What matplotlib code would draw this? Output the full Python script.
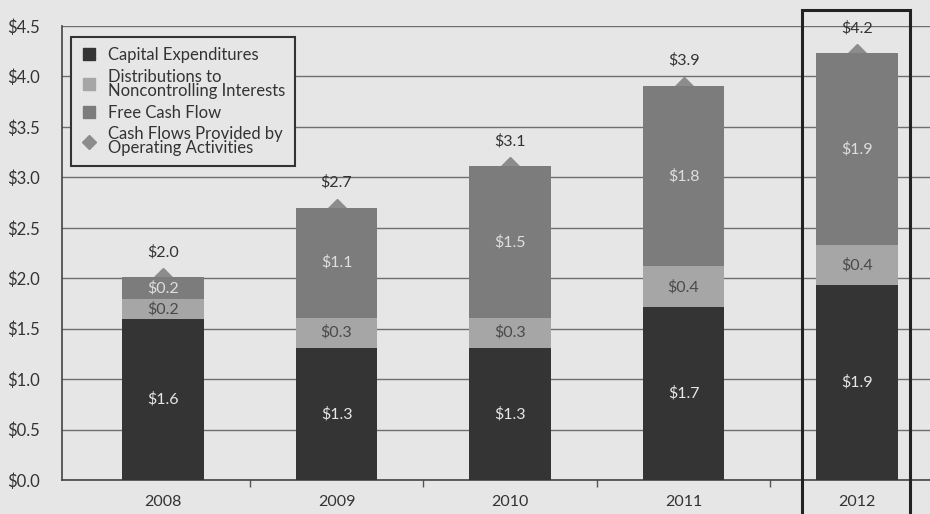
import matplotlib
matplotlib.use("Agg")
import matplotlib.pyplot as plt
from matplotlib.patches import Rectangle
from matplotlib.lines import Line2D
import numpy as np

plt.rcParams['font.family'] = ['Lato', 'DejaVu Sans']

years = ['2008', '2009', '2010', '2011', '2012']
capex = [1.6, 1.3, 1.3, 1.7, 1.9]
distributions = [0.2, 0.3, 0.3, 0.4, 0.4]
free_cash_flow = [0.2, 1.1, 1.5, 1.8, 1.9]
operating_cash = [2.0, 2.7, 3.1, 3.9, 4.2]

# bar heights as drawn (unrounded values behind the labels)
capex_h = [1.60, 1.31, 1.31, 1.71, 1.93]
dist_h = [0.19, 0.30, 0.30, 0.41, 0.40]
fcf_h = [0.22, 1.09, 1.50, 1.79, 1.90]

bg = '#e6e6e6'
c_capex = '#343434'
c_dist = '#a6a6a6'
c_fcf = '#7c7c7c'
c_diam = '#8c8c8c'

fig = plt.figure(figsize=(9.3, 5.14), dpi=100, facecolor=bg)
ax = fig.add_axes([62 / 930, 34 / 514, 868 / 930, 454 / 514], facecolor=bg)

x = np.arange(len(years))
w = 0.47
ax.bar(x, capex_h, w, color=c_capex, zorder=3)
ax.bar(x, dist_h, w, bottom=capex_h, color=c_dist, zorder=3)
bot3 = np.array(capex_h) + np.array(dist_h)
ax.bar(x, fcf_h, w, bottom=bot3, color=c_fcf, zorder=3)
tops = bot3 + np.array(fcf_h)
ax.plot(x, tops, linestyle='none', marker='D', markersize=9, color=c_diam, zorder=2)

fs = 11.5
for i in range(len(years)):
    ax.text(x[i], capex_h[i] / 2, '$%.1f' % capex[i], ha='center', va='center',
            color='#e6e6e6', fontsize=fs, zorder=4)
    ax.text(x[i], capex_h[i] + dist_h[i] / 2, '$%.1f' % distributions[i], ha='center',
            va='center', color='#4a4a4a', fontsize=fs, zorder=4)
    ax.text(x[i], bot3[i] + fcf_h[i] / 2, '$%.1f' % free_cash_flow[i], ha='center',
            va='center', color='#dedede', fontsize=fs, zorder=4)
    ax.annotate('$%.1f' % operating_cash[i], (x[i], tops[i]), xytext=(0, 18),
                textcoords='offset points', ha='center', va='center',
                color='#333333', fontsize=fs, zorder=4)

ax.set_xlim(-0.582, 4.42)
ax.set_ylim(0, 4.5)
ax.set_yticks(np.arange(0, 4.51, 0.5))
ax.set_yticklabels(['$%.1f' % v for v in np.arange(0, 4.51, 0.5)])
ax.set_xticks(x)
ax.set_xticklabels(years)
ax.set_xticks(x[:-1] + 0.5, minor=True)
ax.tick_params(axis='x', which='major', length=0, pad=11, labelsize=fs, labelcolor='#333333')
ax.tick_params(axis='x', which='minor', length=5, width=1, color='#555555')
ax.tick_params(axis='y', length=0, pad=16, labelsize=12, labelcolor='#333333')
ax.yaxis.grid(True, color='#6e6e6e', linewidth=1.0, zorder=1)
ax.set_axisbelow(True)
for s in ['top', 'right']:
    ax.spines[s].set_visible(False)
ax.spines['left'].set_color('#444444')
ax.spines['bottom'].set_color('#444444')
ax.spines['left'].set_linewidth(1.2)
ax.spines['bottom'].set_linewidth(1.2)

handles = [
    Line2D([], [], linestyle='none', marker='s', markersize=8, color=c_capex),
    Line2D([], [], linestyle='none', marker='s', markersize=8, color=c_dist),
    Line2D([], [], linestyle='none', marker='s', markersize=8, color=c_fcf),
    Line2D([], [], linestyle='none', marker='D', markersize=7, color=c_diam),
]
labels = ['Capital Expenditures', 'Distributions to\nNoncontrolling Interests',
          'Free Cash Flow', 'Cash Flows Provided by\nOperating Activities']
leg = ax.legend(handles, labels, loc='upper left', bbox_to_anchor=(0.0104, 0.976),
                fontsize=12, frameon=True, fancybox=False, facecolor=bg,
                edgecolor='#333333', framealpha=1, handletextpad=0.6,
                labelspacing=0.35, borderpad=0.6, handlelength=1.0,
                borderaxespad=0)
leg.get_frame().set_linewidth(1.5)
leg.set_zorder(5)
for t in leg.get_texts():
    t.set_color('#333333')
    t.set_linespacing(0.85)

# highlight box around 2012
fig.patches.append(Rectangle((802 / 930, -0.05), 108 / 930, 1.05 - 10 / 514,
                             transform=fig.transFigure, fill=False,
                             edgecolor='#222222', linewidth=2.2, zorder=6))

fig.savefig('out.png', dpi=100, facecolor=bg)
